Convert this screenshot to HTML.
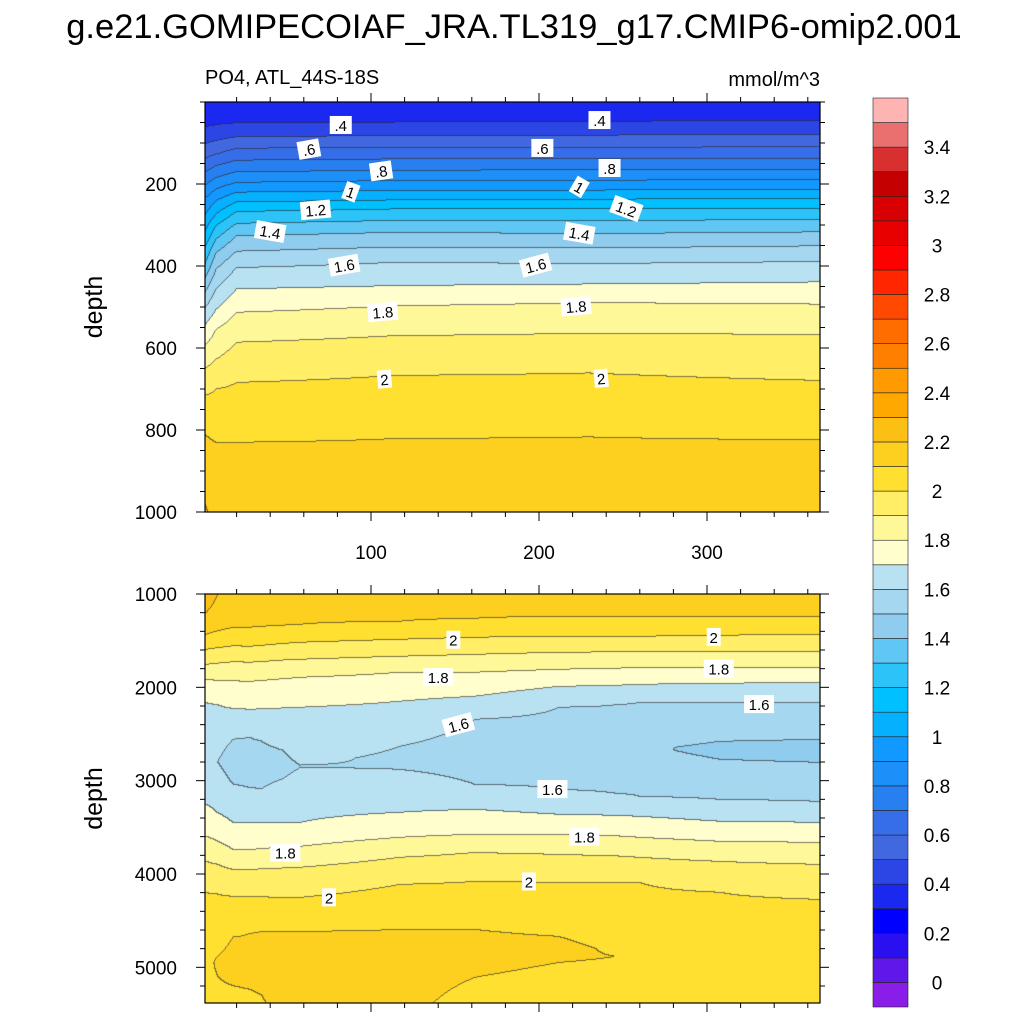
<!DOCTYPE html>
<html><head><meta charset="utf-8">
<style>
html,body{margin:0;padding:0;background:#fff;}
#wrap{position:relative;width:1024px;height:1024px;overflow:hidden;font-family:"Liberation Sans",sans-serif;}
canvas{position:absolute;}
svg{position:absolute;left:0;top:0;}
</style></head>
<body>
<div id="wrap">
<canvas id="topCanvas" width="615" height="410" style="left:205px;top:102px"></canvas>
<canvas id="botCanvas" width="615" height="409" style="left:205px;top:594px"></canvas>
<svg id="ov" width="1024" height="1024"></svg>
</div>
<script>
// ---- colour levels (box i: i=0 -> v<0, i=k -> [(k-1)*0.1, k*0.1), i=36 -> v>=3.5)
const levelColors = ["#8a1ee8","#6018ea","#2a10f0","#0000ff","#1a28f0","#2c46e6","#4268e0","#356ee8","#2880f0","#1c90f8","#1299ff","#05b0ff","#00c0ff","#2cc4f8","#60c6f4","#90ccee","#a5d7f0","#b8e2f2","#fffecc","#fff898","#ffee66","#ffe030","#fdd020","#fcbf14","#ffa800","#ff9a00","#ff8000","#ff6c00","#ff4800","#ff2600","#ff0000","#e80000","#d80000","#c40000","#d83030","#ea7070","#ffb4b4"];
const colorbarLabels = ["0","0.2","0.4","0.6","0.8","1","1.2","1.4","1.6","1.8","2","2.2","2.4","2.6","2.8","3","3.2","3.4"];

// ---- top panel (0-1000 m) profiles: day columns, knot depths, knot values
const topDays = [1, 8, 20, 114, 230, 366];
const topDepths = [
 [0,63,103,139,173,205,237,278,319,359,400,432,465,505,546,595,651,717,810,950,1005],
 [0,57,95,128,156,185,213,241,274,302,335,368,408,457,506,555,628,701,831,1005],
 [0,52,86,114,143,171,197,221,245,268,297,327,365,405,457,514,587,685,831,1005],
 [0,50,83,111,140,168,193,217,240,262,290,319,355,392,449,498,571,668,822,1005],
 [0,48,82,112,140,166,192,216,238,262,290,322,357,395,445,490,565,662,818,1005],
 [0,47,80,110,138,165,190,214,237,260,288,318,352,390,440,494,568,680,825,1005]
];
const topValues = [
 [0.33,0.4,0.5,0.6,0.7,0.8,0.9,1.0,1.1,1.2,1.3,1.4,1.5,1.6,1.7,1.8,1.9,2.0,2.1,2.18,2.22],
 [0.33,0.4,0.5,0.6,0.7,0.8,0.9,1.0,1.1,1.2,1.3,1.4,1.5,1.6,1.7,1.8,1.9,2.0,2.1,2.16],
 [0.33,0.4,0.5,0.6,0.7,0.8,0.9,1.0,1.1,1.2,1.3,1.4,1.5,1.6,1.7,1.8,1.9,2.0,2.1,2.16],
 [0.33,0.4,0.5,0.6,0.7,0.8,0.9,1.0,1.1,1.2,1.3,1.4,1.5,1.6,1.7,1.8,1.9,2.0,2.1,2.16],
 [0.33,0.4,0.5,0.6,0.7,0.8,0.9,1.0,1.1,1.2,1.3,1.4,1.5,1.6,1.7,1.8,1.9,2.0,2.1,2.16],
 [0.33,0.4,0.5,0.6,0.7,0.8,0.9,1.0,1.1,1.2,1.3,1.4,1.5,1.6,1.7,1.8,1.9,2.0,2.1,2.16]
];

// ---- bottom panel (1000-5400 m) profiles
const botDays = [2, 9, 18, 28, 35, 48, 58, 117, 162, 212, 246, 260, 308, 366];
const botDepths = [
 [1000,1200,1436,1597,1758,1918,2165,2700,3258,3600,3870,4200,4900,5400],
 [1000,1250,1400,1580,1745,1930,2190,2800,3350,3650,3900,4220,4950,5400],
 [1000,1361,1560,1730,1935,2230,2560,2780,3040,3451,3741,3955,4244,4680,4950,5200,5400],
 [1000,1361,1565,1736,1940,2240,2540,2800,3080,3451,3741,3955,4244,4640,4950,5241,5400],
 [1000,1355,1555,1728,1930,2235,2580,2850,3090,3451,3735,3950,4250,4620,4950,5300,5400],
 [1000,1340,1535,1712,1910,2225,2680,2850,2980,3451,3715,3940,4255,4620,5000,5400],
 [1000,1329,1522,1704,1897,2218,2850,3451,3708,3933,4255,4620,5000,5400],
 [1000,1297,1490,1672,1843,2154,2637,2760,2883,3344,3612,3826,4116,4598,5000,5400],
 [1000,1265,1468,1651,1843,2100,2347,2700,3044,3312,3580,3773,4084,4598,4850,5112,5400],
 [1000,1243,1458,1629,1811,1994,2218,2650,3098,3365,3580,3794,4094,4673,4810,4952,5400],
 [1000,1243,1458,1625,1800,1983,2190,2700,3140,3376,3596,3810,4094,4887,5400],
 [1000,1243,1458,1622,1790,1972,2165,2650,3172,3387,3612,3826,4094,4800,5400],
 [1000,1243,1447,1622,1790,1961,2165,2583,2680,2776,3205,3440,3655,3870,4201,4800,5400],
 [1000,1243,1436,1618,1790,1951,2165,2562,2690,2808,3226,3451,3666,3901,4276,4800,5400]
];
const botValues = [
 [2.24,2.2,2.1,2.0,1.9,1.8,1.7,1.61,1.7,1.8,1.9,2.0,2.08,2.08],
 [2.2,2.17,2.1,2.0,1.9,1.8,1.7,1.6,1.7,1.8,1.9,2.0,2.11,2.08],
 [2.15,2.1,2.0,1.9,1.8,1.7,1.6,1.55,1.6,1.7,1.8,1.9,2.0,2.1,2.13,2.1,2.08],
 [2.15,2.1,2.0,1.9,1.8,1.7,1.6,1.55,1.6,1.7,1.8,1.9,2.0,2.1,2.13,2.1,2.08],
 [2.15,2.1,2.0,1.9,1.8,1.7,1.6,1.56,1.6,1.7,1.8,1.9,2.0,2.1,2.14,2.1,2.09],
 [2.15,2.1,2.0,1.9,1.8,1.7,1.6,1.58,1.6,1.7,1.8,1.9,2.0,2.1,2.15,2.13],
 [2.15,2.1,2.0,1.9,1.8,1.7,1.598,1.7,1.8,1.9,2.0,2.1,2.15,2.13],
 [2.15,2.1,2.0,1.9,1.8,1.7,1.6,1.59,1.6,1.7,1.8,1.9,2.0,2.1,2.15,2.13],
 [2.15,2.1,2.0,1.9,1.8,1.7,1.6,1.56,1.6,1.7,1.8,1.9,2.0,2.1,2.13,2.1,2.06],
 [2.15,2.1,2.0,1.9,1.8,1.7,1.6,1.55,1.6,1.7,1.8,1.9,2.0,2.1,2.12,2.1,2.05],
 [2.15,2.1,2.0,1.9,1.8,1.7,1.6,1.53,1.6,1.7,1.8,1.9,2.0,2.1,2.05],
 [2.15,2.1,2.0,1.9,1.8,1.7,1.6,1.51,1.6,1.7,1.8,1.9,2.0,2.07,2.05],
 [2.15,2.1,2.0,1.9,1.8,1.7,1.6,1.5,1.48,1.5,1.6,1.7,1.8,1.9,2.0,2.06,2.05],
 [2.15,2.1,2.0,1.9,1.8,1.7,1.6,1.5,1.47,1.5,1.6,1.7,1.8,1.9,2.0,2.06,2.05]
];

// ---- axis ticks
const xMajorTicks = [100, 200, 300];
const topYMajorTicks = [200, 400, 600, 800, 1000];
const botYMajorTicks = [1000, 2000, 3000, 4000, 5000];

// ---- contour labels [text, x-day, depth, rotation]
const topLabelText = [".4",".6",".8","1","1.2","1.4","1.6","1.8","2",".4",".6",".8","1","1.2","1.4","1.6","1.8","2"];
const topLabelDay  = [82,63,106,88,67,40,84,107,108,236,202,242,224,252,224,198,222,237];
const topLabelDepth= [56,115,168,219,263,316,398,512,676,44,112,161,207,260,320,398,498,674];
const topLabelRot  = [0,-10,-8,20,-5,10,-10,-5,-5,0,0,0,30,20,10,-15,-5,-5];
const botLabelText = ["2","1.8","1.6","1.8","2","2","1.8","1.6","1.6","1.8","2"];
const botLabelDay  = [149,140,152,49,75,304,307,331,208,227,194];
const botLabelDepth= [1490,1890,2400,3770,4250,1460,1800,2180,3090,3600,4080];
const botLabelRot  = [0,0,-15,0,0,0,0,0,0,0,0];

// geometry
const X0 = 203, XS = 1.68;
const dayToX = d => X0 + XS*d;
const topY = d => 102 + 0.41*d;
const botY = d => 594 + 0.09333*(d-1000);

function profileVal(depths, vals, d){
  if (d <= depths[0]) return vals[0];
  for (let i=1;i<depths.length;i++){
    if (d <= depths[i]){ const t=(d-depths[i-1])/(depths[i]-depths[i-1]); return vals[i-1]+t*(vals[i]-vals[i-1]); }
  }
  return vals[vals.length-1];
}
function levelIdx(v){ if (v<0) return 0; let k=Math.floor(v*10+1e-9)+1; return Math.min(k,36); }
function hex(c){ return [parseInt(c.slice(1,3),16),parseInt(c.slice(3,5),16),parseInt(c.slice(5,7),16)]; }
const rgb = levelColors.map(hex);

function renderPanel(canvas, days, depths, vals, yToDepth){
  const W=canvas.width,H=canvas.height, ctx=canvas.getContext('2d');
  const img=ctx.createImageData(W,H), idx=new Int16Array(W*H);
  for (let py=0;py<H;py++){
    const d=yToDepth(py+0.5);
    const cv=days.map((_,c)=>profileVal(depths[c],vals[c],d));
    for (let px=0;px<W;px++){
      const day=(205+px+0.5-X0)/XS;
      let v;
      if (day<=days[0]) v=cv[0];
      else if (day>=days[days.length-1]) v=cv[cv.length-1];
      else { for (let c=1;c<days.length;c++){ if (day<=days[c]){ const t=(day-days[c-1])/(days[c]-days[c-1]); v=cv[c-1]+t*(cv[c]-cv[c-1]); break; } } }
      idx[py*W+px]=levelIdx(v);
    }
  }
  for (let py=0;py<H;py++) for (let px=0;px<W;px++){
    const k=idx[py*W+px]; let c=rgb[k];
    const edge=(px<W-1&&idx[py*W+px+1]!==k)||(py<H-1&&idx[(py+1)*W+px]!==k);
    const o=(py*W+px)*4;
    if (edge){ img.data[o]=c[0]*0.35+30;img.data[o+1]=c[1]*0.35+30;img.data[o+2]=c[2]*0.35+30; }
    else { img.data[o]=c[0];img.data[o+1]=c[1];img.data[o+2]=c[2]; }
    img.data[o+3]=255;
  }
  ctx.putImageData(img,0,0);
}
renderPanel(document.getElementById('topCanvas'), topDays, topDepths, topValues, y=>(y)/0.41);
renderPanel(document.getElementById('botCanvas'), botDays, botDepths, botValues, y=>1000+y/0.09333);

// ---- SVG overlay
const NS="http://www.w3.org/2000/svg", ov=document.getElementById('ov');
function mk(tag, attrs, parent){ const e=document.createElementNS(NS,tag); for(const k in attrs) e.setAttribute(k,attrs[k]); (parent||ov).appendChild(e); return e; }
function txt(s, attrs, parent){ const e=mk('text',attrs,parent); e.textContent=s; return e; }

let t=txt("g.e21.GOMIPECOIAF_JRA.TL319_g17.CMIP6-omip2.001",{x:514,y:38,'font-size':34.5,'text-anchor':'middle',fill:'#000'});
 
t=txt("PO4, ATL_44S-18S",{x:205,y:84,'font-size':20,fill:'#000'});
 
t=txt("mmol/m^3",{x:820,y:86,'font-size':20,'text-anchor':'end',fill:'#000'});
 

function panelAxes(name, top, bottom, yMajor, yMinorStep, yMin, yMax, yFn, showX){
  const g=mk('g',{});
   
  mk('rect',{x:205,y:top,width:615,height:bottom-top,fill:'none',stroke:'#000','stroke-width':1.2},g);
  for (let d=yMin; d<=yMax; d+=yMinorStep){
    const y=yFn(d); if (y<top-0.5||y>bottom+0.5) continue;
    const major=yMajor.includes(d), L=major?9:5;
    mk('line',{x1:205,x2:205-L,y1:y,y2:y,stroke:'#000','stroke-width':1},g);
    mk('line',{x1:820,x2:820+L,y1:y,y2:y,stroke:'#000','stroke-width':1},g);
  }
  yMajor.forEach(d=>{ const tt=txt(String(d),{x:177,y:yFn(d)+7,'font-size':19,'text-anchor':'end',fill:'#000'},g);
      });
  for (let dd=20; dd<=360; dd+=20){
    const x=dayToX(dd), major=xMajorTicks.includes(dd), L=major?9:5;
    mk('line',{x1:x,x2:x,y1:bottom,y2:bottom+L,stroke:'#000','stroke-width':1},g);
    mk('line',{x1:x,x2:x,y1:top,y2:top-L,stroke:'#000','stroke-width':1},g);
  }
  if (showX) xMajorTicks.forEach(dd=>{ const tt=txt(String(dd),{x:dayToX(dd),y:559,'font-size':19,'text-anchor':'middle',fill:'#000'},g);
      });
  const yl=txt("depth",{x:0,y:0,'font-size':25,'text-anchor':'middle',fill:'#000',transform:`translate(102,${(top+bottom)/2}) rotate(-90)`},g);
   
}
panelAxes('top-panel',102,512,topYMajorTicks,50,0,1000,topY,true);
panelAxes('bottom-panel',594,1003,botYMajorTicks,200,1000,5400,botY,false);

function contourLabels(texts, dayArr, depthArr, rotArr, yFn, name){
  texts.forEach((s,i)=>{
    const x=dayToX(dayArr[i]), y=yFn(depthArr[i]);
    const g=mk('g',{transform:`translate(${x},${y}) rotate(${rotArr[i]})`});
     
    const w=s.length*8+6;
    mk('rect',{x:-w/2,y:-9,width:w,height:18,fill:'#fff'},g);
    txt(s,{x:0,y:6,'font-size':15,'text-anchor':'middle',fill:'#000'},g);
  });
}
contourLabels(topLabelText,topLabelDay,topLabelDepth,topLabelRot,topY,'top-contour-label');
contourLabels(botLabelText,botLabelDay,botLabelDepth,botLabelRot,botY,'bottom-contour-label');

const cb=mk('g',{});
 
const cbTop=98, cbBot=1007, bh=(cbBot-cbTop)/levelColors.length;
levelColors.forEach((c,i)=>{
  const r=mk('rect',{x:873,y:cbBot-(i+1)*bh,width:35,height:bh,fill:c,stroke:'#222','stroke-width':0.6},cb);
   
});
colorbarLabels.forEach((s,j)=>{
  const y=cbBot-(2*j+1)*bh;
  const tt=txt(s,{x:937,y:y+7,'font-size':19,'text-anchor':'middle',fill:'#000'},cb);
   
});
</script>
</body></html>
